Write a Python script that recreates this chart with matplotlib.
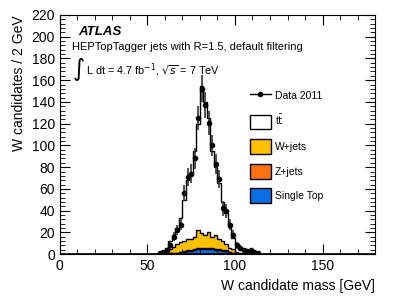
import numpy as np
import matplotlib.pyplot as plt
from matplotlib.ticker import MultipleLocator
from matplotlib.patches import Patch
from matplotlib.lines import Line2D

plt.rcParams['font.family'] = ['Liberation Sans', 'DejaVu Sans']

# 2 GeV bins from 56 to 114 GeV
edges = np.arange(56, 116, 2)
data = [1, 2, 4, 8, 16, 22, 27, 56, 71, 74, 88, 125, 152, 137, 121, 100, 83, 69, 42, 40, 27, 18, 8, 6, 4, 3, 4, 2, 1]
single_top = [0, 0, 0, 1, 1, 1, 2, 2, 3, 3, 4, 5, 5, 5, 5, 5, 4, 4, 3, 3, 2, 1, 1, 0, 0, 0, 0, 0, 0]
zjets = [0, 0, 0, 0, 0, 0, 0, 1, 1, 1, 1, 1, 1, 1, 1, 1, 1, 1, 1, 1, 0, 0, 0, 0, 0, 0, 0, 0, 0]
wjets = [1, 2, 3, 4, 6, 8, 9, 9, 10, 10, 11, 16, 13, 12, 14, 10, 13, 9, 8, 5, 4, 4, 1, 1, 0, 0, 0, 0, 0]
ttbar = [0, 1, 3, 7, 11, 15, 22, 38, 54, 61, 79, 98, 136, 122, 105, 79, 62, 51, 36, 29, 19, 10, 6, 4, 3, 2, 1, 1, 0]

fig = plt.figure(figsize=(3.99, 2.99), dpi=100)
ax = fig.add_axes([0.150, 0.150, 0.790, 0.800])

centers = 0.5 * (edges[:-1] + edges[1:])
stack = [(single_top, '#0a6fe0'), (zjets, '#ff7010'), (wjets, '#ffc000'), (ttbar, 'white')]
cum = np.zeros(len(centers))
layers = []
for vals, col in stack:
    cum = cum + np.array(vals)
    layers.append((cum.copy(), col))
for vals, col in reversed(layers):
    ax.hist(centers, bins=edges, weights=vals, histtype='stepfilled',
            facecolor=col, edgecolor='black', linewidth=1.0)
# extend the baseline across the axis
ax.axhline(0, color='black', linewidth=1.2)

d = np.array(data, dtype=float)
ax.errorbar(centers, d, yerr=np.sqrt(d), fmt='o', color='black', ecolor='#333333',
            markersize=3, elinewidth=1.2, capsize=0)

ax.set_xlim(0, 180)
ax.set_ylim(0, 220)
ax.xaxis.set_major_locator(MultipleLocator(50))
ax.xaxis.set_minor_locator(MultipleLocator(10))
ax.yaxis.set_major_locator(MultipleLocator(20))
ax.yaxis.set_minor_locator(MultipleLocator(4))
ax.tick_params(which='both', direction='in', top=True, right=True, labelsize=10)
ax.tick_params(which='major', length=7)
ax.tick_params(which='minor', length=3.5)
ax.set_xlabel('W candidate mass [GeV]', fontsize=10, loc='right')
ax.set_ylabel('W candidates / 2 GeV', fontsize=10, loc='top')

ax.text(0.057, 0.93, 'ATLAS', transform=ax.transAxes, fontsize=9.5,
        fontweight='bold', style='italic', va='center')
ax.text(0.038, 0.866, 'HEPTopTagger jets with R=1.5, default filtering',
        transform=ax.transAxes, fontsize=8, va='center')
ax.text(0.038, 0.77, r'$\int$', transform=ax.transAxes, fontsize=12, va='center')
ax.text(0.084, 0.77, r'L dt = 4.7 fb$^{-1}$, $\sqrt{s}$ = 7 TeV',
        transform=ax.transAxes, fontsize=7.8, va='center')

handles = [
    Line2D([0], [0], color='black', marker='o', markersize=3, linewidth=1),
    Patch(facecolor='white', edgecolor='black'),
    Patch(facecolor='#ffc000', edgecolor='black'),
    Patch(facecolor='#ff7010', edgecolor='black'),
    Patch(facecolor='#0a6fe0', edgecolor='black'),
]
labels = ['Data 2011', r't$\bar{\rm t}$', 'W+jets', 'Z+jets', 'Single Top']
ax.legend(handles, labels, loc='upper left', bbox_to_anchor=(0.59, 0.71),
          frameon=False, fontsize=7.5, handlelength=2.0, handleheight=1.8,
          labelspacing=0.95, handletextpad=0.4, borderaxespad=0)

fig.savefig('out.png', dpi=100)
